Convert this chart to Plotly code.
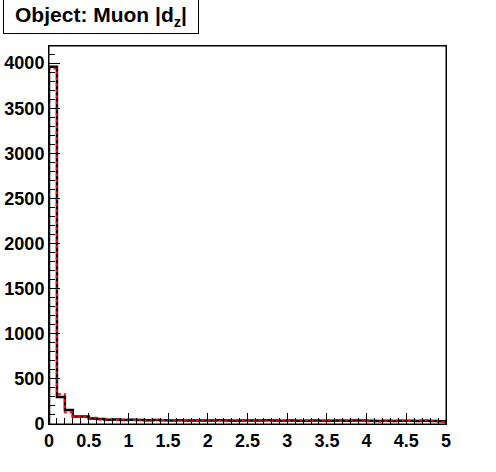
import plotly.graph_objects as go

bin_edges = [round(i * 0.1, 1) for i in range(51)]
black_counts = [3960, 300, 155, 82, 82, 62, 55, 48, 50, 45, 48, 45, 42, 45, 42, 40, 42, 40, 38, 40,
                38, 42, 40, 36, 40, 38, 40, 42, 38, 36, 38, 35, 36, 38, 36, 35, 38, 36, 38, 40,
                35, 34, 36, 34, 35, 36, 34, 35, 33, 30]
red_counts = [3940, 330, 130, 88, 78, 68, 50, 52, 46, 50, 44, 48, 40, 46, 44, 42, 38, 44, 40, 36,
              42, 38, 36, 42, 44, 38, 42, 40, 44, 40, 36, 38, 40, 34, 40, 44, 38, 40, 46, 44,
              30, 28, 32, 38, 36, 34, 40, 38, 36, 26]
x_tickvals = [0, 0.5, 1, 1.5, 2, 2.5, 3, 3.5, 4, 4.5, 5]
x_ticktext = ["0", "0.5", "1", "1.5", "2", "2.5", "3", "3.5", "4", "4.5", "5"]
y_tickvals = [0, 500, 1000, 1500, 2000, 2500, 3000, 3500, 4000]
title_text = "Object: Muon |d<sub>z</sub>|"


def step_xy(edges, counts):
    xs = [edges[0]] + list(edges)
    ys = [0] + list(counts) + [0]
    return xs, ys


fig = go.Figure()
bx, by = step_xy(bin_edges, black_counts)
fig.add_trace(go.Scatter(x=bx, y=by, mode="lines", line=dict(color="black", width=2.5, shape="hv"),
                         hoverinfo="skip", showlegend=False))
rx, ry = step_xy(bin_edges, red_counts)
fig.add_trace(go.Scatter(x=rx, y=ry, mode="lines",
                         line=dict(color="#ff0000", width=2, shape="hv", dash="3px,3px"),
                         hoverinfo="skip", showlegend=False))

ymax = 4190
tick_font = dict(size=18, family="Liberation Sans, Arial", weight="bold", color="black")
fig.update_layout(
    width=496, height=472,
    margin=dict(l=49, r=50, t=46, b=48),
    paper_bgcolor="white", plot_bgcolor="white",
    font=dict(family="Liberation Sans, Arial, sans-serif", size=17, color="black"),
    xaxis=dict(range=[0, 5], tickmode="array", tickvals=x_tickvals, ticktext=x_ticktext,
               ticks="inside", ticklen=11, tickwidth=1, tickcolor="black", automargin=False,
               minor=dict(dtick=0.1, ticks="inside", ticklen=6, tickwidth=1, tickcolor="black"),
               showgrid=False, zeroline=False, showline=True, linecolor="black", linewidth=1,
               mirror=True, tickfont=tick_font),
    yaxis=dict(range=[0, ymax], tickmode="array", tickvals=y_tickvals,
               ticks="inside", ticklen=11, tickwidth=1, tickcolor="black", automargin=False,
               minor=dict(dtick=100, ticks="inside", ticklen=6, tickwidth=1, tickcolor="black"),
               showgrid=False, zeroline=False, showline=True, linecolor="black", linewidth=1,
               mirror=True, tickfont=tick_font, ticklabelstandoff=0),
    shapes=[dict(type="rect", xref="paper", yref="paper", x0=0, x1=1, y0=0, y1=1,
                 line=dict(color="black", width=1), fillcolor="rgba(0,0,0,0)")],
    annotations=[dict(text="<b>" + title_text + "</b>", xref="paper", yref="paper",
                      x=(3 - 49) / 397, y=(424 + 1) / 378, xanchor="left", yanchor="top",
                      showarrow=False, font=dict(size=21, family="Liberation Sans, Arial"),
                      bordercolor="black", borderwidth=1, borderpad=2, bgcolor="white",
                      width=190, height=29, align="center")],
)
fig.write_html("out.html", config={"displayModeBar": False},
               post_script="document.body.style.margin='0';")
